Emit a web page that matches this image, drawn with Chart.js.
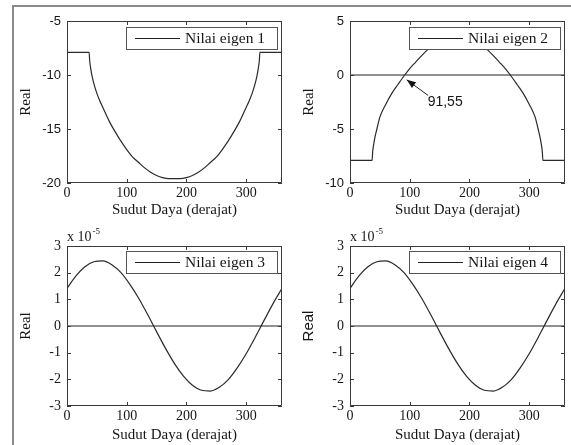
<!DOCTYPE html>
<html><head><meta charset="utf-8">
<script src="https://cdn.jsdelivr.net/npm/chart.js@4.4.0/dist/chart.umd.min.js"></script>
<style>
html,body{margin:0;padding:0;background:#fff;}
body{width:571px;height:445px;position:relative;overflow:hidden;}
#frame{position:absolute;left:12px;top:5px;width:600px;height:500px;border-left:2px solid #8a8a8a;border-top:2px solid #8a8a8a;}
canvas{position:absolute;}
</style></head><body>
<div id="frame"></div>
<canvas id="c1" width="275" height="214" style="left:14px;top:6px"></canvas>
<canvas id="c2" width="274" height="214" style="left:297px;top:6px"></canvas>
<canvas id="c3" width="275" height="223" style="left:14px;top:222px"></canvas>
<canvas id="c4" width="274" height="223" style="left:297px;top:222px"></canvas>
<script>
// ---- data ----
const xTicks = [0, 100, 200, 300];
const yTicks1 = [-20, -15, -10, -5];
const yTicks2 = [-10, -5, 0, 5];
const yTicks34 = [-3, -2, -1, 0, 1, 2, 3];
const legendLabels = ['Nilai eigen 1', 'Nilai eigen 2', 'Nilai eigen 3', 'Nilai eigen 4'];
const xTitle = 'Sudut Daya (derajat)';
const yTitle = 'Real';
const annotationText = '91,55';
const exponentBase = 'x 10';
const exponentPower = '-5';

const angle1 = [0,37,38,40,42,45,50,55,60,70,80,90,100,110,120,130,140,150,160,170,180,190,200,210,220,230,240,250,260,270,280,290,300,305,310,315,318,320,322,323,360];
const eigen1 = [-7.9,-7.9,-8.7,-9.5,-10.1,-10.8,-11.7,-12.4,-13.0,-14.2,-15.2,-16.1,-16.9,-17.6,-18.1,-18.6,-19.0,-19.3,-19.5,-19.6,-19.6,-19.6,-19.5,-19.3,-19.0,-18.6,-18.1,-17.6,-16.9,-16.1,-15.2,-14.2,-13.0,-12.4,-11.7,-10.8,-10.1,-9.5,-8.7,-7.9,-7.9];

const angle2 = [0,36,37,38,40,42,45,50,60,70,80,91.55,100,110,120,131,140,150,160,170,180,190,200,210,220,229,240,250,260,268.45,280,290,300,310,315,318,320,322,323,360];
const eigen2 = [-7.9,-7.9,-7.9,-7.1,-6.3,-5.7,-5.0,-3.9,-2.7,-1.7,-0.9,0,0.6,1.2,1.8,2.4,2.8,3.1,3.35,3.5,3.55,3.5,3.35,3.1,2.8,2.4,1.8,1.2,0.6,0,-0.9,-1.7,-2.7,-3.9,-5.0,-5.7,-6.3,-7.1,-7.9,-7.9];

const angle34 = [0,15,30,45,60,75,90,105,120,135,150,165,180,195,210,225,240,255,270,285,300,315,330,345,360];
// values in units of 1e-5
const eigen3 = [1.41,1.88,2.22,2.41,2.44,2.30,2.01,1.57,1.04,0.43,-0.21,-0.84,-1.41,-1.88,-2.22,-2.41,-2.44,-2.30,-2.01,-1.57,-1.04,-0.43,0.21,0.84,1.41];
const eigen4 = [1.41,1.88,2.22,2.41,2.44,2.30,2.01,1.57,1.04,0.43,-0.21,-0.84,-1.41,-1.88,-2.22,-2.41,-2.44,-2.30,-2.01,-1.57,-1.04,-0.43,0.21,0.84,1.41];

const zeroAngles = [0, 360];
const zeroValues = [0, 0];

// ---- rendering ----
const TXT = '#161616';
const pts = (xs, ys) => ys.map((v, i) => ({x: xs[i], y: v}));

const matlabPlugin = {
  id: 'matlab',
  afterDatasetsDraw(chart, args, opts) {
    const {ctx, chartArea: ca, scales: {x, y}} = chart;
    const L = Math.round(ca.left), T = Math.round(ca.top), R = Math.round(ca.right), B = Math.round(ca.bottom);
    ctx.save();
    ctx.strokeStyle = '#3a3a3a';
    ctx.lineWidth = 1;
    ctx.beginPath();
    ctx.rect(L + 0.5, T + 0.5, R - L - 1, B - T - 1);
    ctx.stroke();
    ctx.beginPath();
    xTicks.forEach(v => {
      const px = Math.round(x.getPixelForValue(v)) + 0.5;
      ctx.moveTo(px, B); ctx.lineTo(px, B - 4);
      ctx.moveTo(px, T); ctx.lineTo(px, T + 4);
    });
    opts.yTicks.forEach(v => {
      const py = Math.round(y.getPixelForValue(v)) + 0.5;
      ctx.moveTo(L, py); ctx.lineTo(L + 4, py);
      ctx.moveTo(R, py); ctx.lineTo(R - 4, py);
    });
    ctx.stroke();

    // annotation arrow
    if (opts.annotation) {
      const a = opts.annotation;
      const tx = x.getPixelForValue(a.tip[0]), ty = y.getPixelForValue(a.tip[1]);
      const sx = x.getPixelForValue(a.tail[0]), sy = y.getPixelForValue(a.tail[1]);
      ctx.strokeStyle = '#222';
      ctx.beginPath(); ctx.moveTo(sx, sy); ctx.lineTo(tx, ty); ctx.stroke();
      const ang = Math.atan2(ty - sy, tx - sx);
      ctx.fillStyle = '#111';
      ctx.beginPath();
      ctx.moveTo(tx, ty);
      ctx.lineTo(tx - 9 * Math.cos(ang) + 3.5 * Math.sin(ang), ty - 9 * Math.sin(ang) - 3.5 * Math.cos(ang));
      ctx.lineTo(tx - 9 * Math.cos(ang) - 3.5 * Math.sin(ang), ty - 9 * Math.sin(ang) + 3.5 * Math.cos(ang));
      ctx.closePath(); ctx.fill();
      ctx.font = '14px "Liberation Sans", Arial, sans-serif';
      ctx.fillStyle = TXT;
      ctx.textAlign = 'left'; ctx.textBaseline = 'middle';
      ctx.fillText(a.text, x.getPixelForValue(a.textAt[0]), y.getPixelForValue(a.textAt[1]));
    }

    // exponent label
    if (opts.exponent) {
      ctx.fillStyle = TXT;
      ctx.textAlign = 'left'; ctx.textBaseline = 'alphabetic';
      ctx.font = '14px "Liberation Serif", "Times New Roman", serif';
      ctx.fillText(exponentBase, L, T - 5);
      const w = ctx.measureText(exponentBase).width;
      ctx.font = '9px "Liberation Serif", "Times New Roman", serif';
      ctx.fillText(exponentPower, L + w + 1, T - 12);
    }

    // legend box inside the axes
    const bw = 151, bh = 22;
    const bx = R - 5 - bw, by = T + opts.legendTop;
    ctx.fillStyle = '#fff';
    ctx.fillRect(bx, by, bw, bh);
    ctx.strokeStyle = '#555';
    ctx.strokeRect(Math.round(bx) + 0.5, Math.round(by) + 0.5, bw, bh);
    ctx.strokeStyle = '#222';
    ctx.lineWidth = 1.2;
    ctx.beginPath();
    ctx.moveTo(bx + 9, by + bh / 2 + 0.5); ctx.lineTo(bx + 54, by + bh / 2 + 0.5);
    ctx.stroke();
    ctx.fillStyle = TXT;
    ctx.font = '15.5px "Liberation Serif", "Times New Roman", serif';
    ctx.textAlign = 'left'; ctx.textBaseline = 'middle';
    ctx.fillText(chart.data.datasets[0].label, bx + 59, by + bh / 2 + 1);
    ctx.restore();
  }
};

function makeChart(id, p) {
  const datasets = [{
    label: p.label,
    data: pts(p.xs, p.ys),
    borderColor: '#2a2a2a',
    borderWidth: 1.2,
    pointRadius: 0,
    cubicInterpolationMode: 'monotone',
    fill: false
  }];
  if (p.zero) {
    datasets.push({
      label: 'zero',
      data: pts(zeroAngles, zeroValues),
      borderColor: '#222',
      borderWidth: 1,
      pointRadius: 0,
      fill: false
    });
  }
  new Chart(document.getElementById(id), {
    type: 'line',
    data: {datasets},
    plugins: [matlabPlugin],
    options: {
      responsive: false,
      animation: false,
      events: [],
      devicePixelRatio: 1,
      layout: {padding: {top: p.padTop, right: p.padRight, left: 0, bottom: 0}},
      plugins: {
        legend: {display: false},
        tooltip: {enabled: false},
        matlab: {yTicks: p.yTicks, legendTop: p.legendTop, annotation: p.annotation, exponent: p.exponent}
      },
      scales: {
        x: {
          type: 'linear', min: 0, max: 360,
          afterBuildTicks: s => { s.ticks = xTicks.map(v => ({value: v})); },
          afterFit: s => { s.height = p.xAxisH; },
          grid: {display: false, drawTicks: false},
          border: {display: false},
          ticks: {color: TXT, padding: 2, maxRotation: 0, autoSkip: false,
                  font: {family: '"Liberation Serif", "Times New Roman", serif', size: 14}},
          title: {display: true, text: xTitle, color: TXT, padding: {top: 0, bottom: 1},
                  font: {family: '"Liberation Serif", "Times New Roman", serif', size: 15}}
        },
        y: {
          type: 'linear', min: p.yMin, max: p.yMax,
          afterBuildTicks: s => { s.ticks = p.yTicks.map(v => ({value: v})); },
          afterFit: s => { s.width = 53; },
          grid: {display: false, drawTicks: false},
          border: {display: false},
          ticks: {color: TXT, padding: 6, autoSkip: false, font: p.yTickFont},
          title: {display: true, text: yTitle, color: TXT, padding: {top: 3},
                  font: p.yTitleFont}
        }
      }
    }
  });
}

const sansTick = {family: '"Liberation Sans", Arial, sans-serif', size: 13};
const serifTick = {family: '"Liberation Serif", "Times New Roman", serif', size: 14};
const serifTitle = {family: '"Liberation Serif", "Times New Roman", serif', size: 15};
const sansTitle = {family: '"Liberation Sans", Arial, sans-serif', size: 15};

makeChart('c1', {label: legendLabels[0], xs: angle1, ys: eigen1, zero: false, yMin: -20, yMax: -5, yTicks: yTicks1,
  padTop: 15, padRight: 7, xAxisH: 37, legendTop: 6, yTickFont: sansTick, yTitleFont: serifTitle});
makeChart('c2', {label: legendLabels[1], xs: angle2, ys: eigen2, zero: true, yMin: -10, yMax: 5, yTicks: yTicks2,
  padTop: 15, padRight: 6, xAxisH: 37, legendTop: 6, yTickFont: sansTick, yTitleFont: serifTitle,
  annotation: {tip: [95, -0.45], tail: [131, -1.9], textAt: [130, -2.55], text: annotationText}});
makeChart('c3', {label: legendLabels[2], xs: angle34, ys: eigen3, zero: true, yMin: -3, yMax: 3, yTicks: yTicks34,
  padTop: 24, padRight: 7, xAxisH: 39, legendTop: 5, yTickFont: serifTick, yTitleFont: serifTitle, exponent: true});
makeChart('c4', {label: legendLabels[3], xs: angle34, ys: eigen4, zero: true, yMin: -3, yMax: 3, yTicks: yTicks34,
  padTop: 24, padRight: 6, xAxisH: 39, legendTop: 5, yTickFont: serifTick, yTitleFont: sansTitle, exponent: true});
</script>
</body></html>
